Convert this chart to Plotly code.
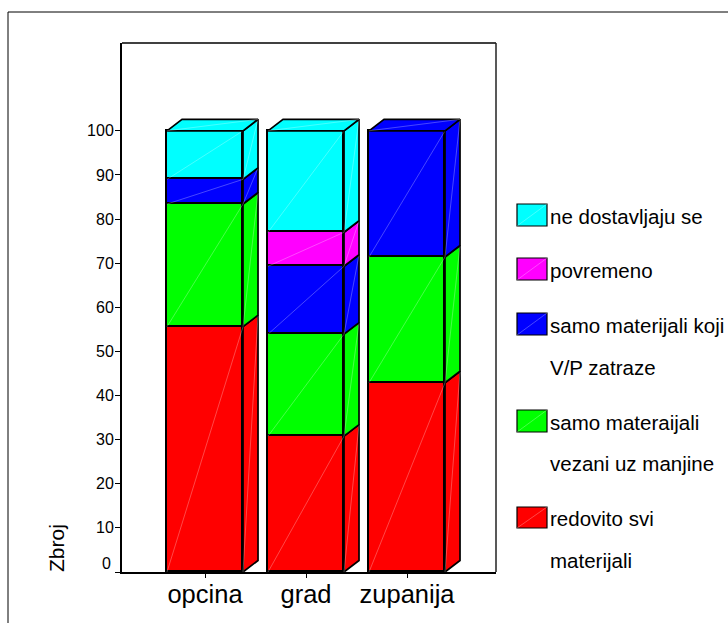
import plotly.graph_objects as go

W, H = 728, 623
L, R, T, B = 122, 496, 43, 572

categories = ["opcina", "grad", "zupanija"]
tick_values = [10, 20, 30, 40, 50, 60, 70, 80, 90, 100]

series_names = ["redovito svi materijali", "samo materaijali vezani uz manjine",
                "samo materijali koji V/P zatraze", "povremeno", "ne dostavljaju se"]
redovito = [55.6, 30.8, 42.9]
samo_manjine = [27.8, 23.1, 28.5]
samo_vp = [5.6, 15.4, 28.6]
povremeno = [0, 7.7, 0]
ne_dostavljaju = [11.0, 23.0, 0]
series_values = [redovito, samo_manjine, samo_vp, povremeno, ne_dostavljaju]
series_colors = ["#ff0000", "#00ff00", "#0000ff", "#ff00ff", "#00ffff"]

legend_rows = [("#00ffff", 204, 226), ("#ff00ff", 258, 280), ("#0000ff", 313, 335),
               ("#00ff00", 410, 432), ("#ff0000", 507, 528)]
legend_texts = [("ne dostavljaju se", 216), ("povremeno", 270), ("samo materijali koji", 325),
                ("V/P zatraze", 367), ("samo materaijali", 422), ("vezani uz manjine", 463),
                ("redovito svi", 518), ("materijali", 560)]

PX_X = (R - L) / 3.703
PX_Y = (B - T) / 119.9
BAR_W = 76 / PX_X
DX = 15 / PX_X
DY = 11.5 / PX_Y
FONT = "Liberation Sans, Arial, sans-serif"
FAINT = "rgba(255,255,255,0.4)"

px = lambda x: (x - L) / (R - L)
py = lambda y: (B - y) / (B - T)


def faint(xs, ys):
    return go.Scatter(x=xs, y=ys, mode="lines", line=dict(color=FAINT, width=0.7),
                      hoverinfo="skip", showlegend=False)


def poly(xs, ys, color):
    return go.Scatter(x=xs, y=ys, mode="lines", fill="toself", fillcolor=color,
                      line=dict(color="black", width=1.7), hoverinfo="skip", showlegend=False)


fig = go.Figure()
xpos = list(range(len(categories)))
for name, vals, col in zip(series_names, series_values, series_colors):
    fig.add_trace(go.Bar(x=xpos, y=vals, name=name, width=BAR_W,
                         marker=dict(color=col, line=dict(color="black", width=1.7)),
                         showlegend=False, hoverinfo="skip"))

for i in xpos:
    xl, xr = i - BAR_W / 2, i + BAR_W / 2
    base = 0
    for vals, col in zip(series_values, series_colors):
        v = vals[i]
        if v <= 0:
            continue
        top = base + v
        fig.add_trace(poly([xr, xr + DX, xr + DX, xr, xr],
                           [base, base + DY, top + DY, top, base], col))
        fig.add_trace(faint([xl, xr], [base, top]))
        fig.add_trace(faint([xr, xr + DX], [base, top + DY]))
        base = top
        last = col
    fig.add_trace(poly([xl, xl + DX, xr + DX, xr, xl],
                       [base, base + DY, base + DY, base, base], last))
    fig.add_trace(faint([xl, xr + DX], [base, base + DY]))

shapes = [
    dict(type="line", xref="paper", yref="paper", x0=px(L), x1=px(R), y0=py(T), y1=py(T),
         line=dict(color="black", width=1.5)),
    dict(type="line", xref="paper", yref="paper", x0=px(R), x1=px(R), y0=py(T), y1=py(B),
         line=dict(color="#222222", width=1.5)),
    dict(type="line", xref="paper", yref="paper", x0=px(8), x1=px(W), y0=py(12), y1=py(12),
         line=dict(color="black", width=1)),
    dict(type="line", xref="paper", yref="paper", x0=px(8), x1=px(8), y0=py(12), y1=py(H),
         line=dict(color="black", width=1)),
]
for col, y0, y1 in legend_rows:
    shapes.append(dict(type="rect", xref="paper", yref="paper", x0=px(517), x1=px(547),
                       y0=py(y0), y1=py(y1), fillcolor=col, line=dict(color="black", width=1.2)))
    shapes.append(dict(type="line", xref="paper", yref="paper", x0=px(517), x1=px(547),
                       y0=py(y1), y1=py(y0), line=dict(color=FAINT, width=0.7)))

annotations = [dict(text=t, xref="paper", yref="paper", x=px(547.5), y=py(y), xanchor="left",
                    yanchor="middle", showarrow=False, font=dict(family=FONT, size=20.5, color="black"))
               for t, y in legend_texts]
annotations.append(dict(text="0", xref="paper", yref="paper", x=px(113), y=py(563), xanchor="right",
                        yanchor="middle", showarrow=False,
                        font=dict(family=FONT, size=16, color="black")))
annotations.append(dict(text="Zbroj", xref="paper", yref="paper", x=px(56), y=py(548), textangle=-90,
                        xanchor="center", yanchor="middle", showarrow=False,
                        font=dict(family=FONT, size=21, color="black")))

fig.update_layout(
    width=W, height=H, autosize=False, barmode="stack", bargap=0,
    margin=dict(l=L, r=W - R, t=T, b=H - B, pad=0),
    paper_bgcolor="white", plot_bgcolor="white", showlegend=False,
    shapes=shapes, annotations=annotations,
    xaxis=dict(range=[-0.822, 2.881], tickmode="array", tickvals=xpos, ticktext=categories,
               automargin=False, ticklabelstandoff=-6,
               showgrid=False, zeroline=False, showline=True, linecolor="black", linewidth=2,
               ticks="outside", ticklen=4, tickcolor="black", tickwidth=1,
               tickfont=dict(family=FONT, size=25.5, color="black")),
    yaxis=dict(range=[0, 119.9], tickmode="array", tickvals=[0] + tick_values,
               ticktext=[""] + [str(v) for v in tick_values],
               automargin=False, ticklabelstandoff=-2,
               showgrid=False, zeroline=False, showline=True, linecolor="black", linewidth=2,
               ticks="outside", ticklen=5, tickcolor="black", tickwidth=1,
               tickfont=dict(family=FONT, size=16, color="black")),
)
fig.write_html("out.html", config={"displayModeBar": False},
               post_script="document.body.style.margin='0';document.body.style.overflow='hidden';")
